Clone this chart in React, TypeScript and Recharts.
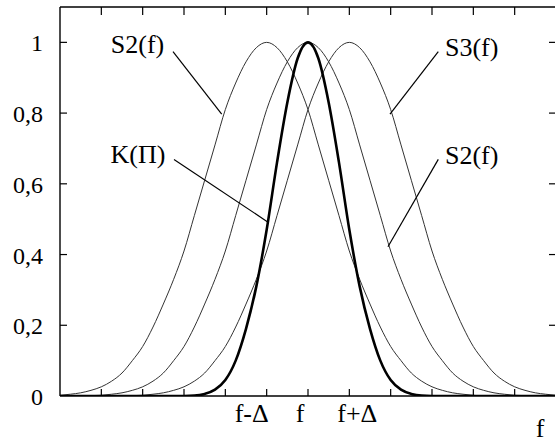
import React from 'react';
import { LineChart, Line, XAxis, YAxis, ReferenceLine, ReferenceDot } from 'recharts';

// frequency grid (axis units, f sits at 6, step = a quarter of Δ)
const freq = [
  0, 0.25, 0.5, 0.75, 1, 1.25, 1.5, 1.75, 2, 2.25, 2.5, 2.75, 3, 3.25, 3.5, 3.75,
  4, 4.25, 4.5, 4.75, 5, 5.25, 5.5, 5.75, 6, 6.25, 6.5, 6.75, 7, 7.25, 7.5, 7.75,
  8, 8.25, 8.5, 8.75, 9, 9.25, 9.5, 9.75, 10, 10.25, 10.5, 10.75, 11, 11.25, 11.5, 11.75, 12,
];

// S2(f) centred on f-Δ
const s2Left = [
  0.002, 0.005, 0.009, 0.016, 0.026, 0.042, 0.065, 0.1, 0.14, 0.195, 0.26, 0.33, 0.41, 0.51, 0.61, 0.71,
  0.81, 0.885, 0.945, 0.985, 1, 0.985, 0.945, 0.885, 0.81, 0.71, 0.61, 0.51, 0.41, 0.33, 0.26, 0.195,
  0.14, 0.1, 0.065, 0.042, 0.026, 0.016, 0.009, 0.005, 0.002, 0, 0, 0, 0, 0, 0, 0, 0,
];

// S2(f) centred on f
const s2Center = [
  0, 0, 0.001, 0.001, 0.002, 0.005, 0.009, 0.016, 0.026, 0.042, 0.065, 0.1, 0.14, 0.195, 0.26, 0.33,
  0.41, 0.51, 0.61, 0.71, 0.81, 0.885, 0.945, 0.985, 1, 0.985, 0.945, 0.885, 0.81, 0.71, 0.61, 0.51,
  0.41, 0.33, 0.26, 0.195, 0.14, 0.1, 0.065, 0.042, 0.026, 0.016, 0.009, 0.005, 0.002, 0.001, 0.001, 0, 0,
];

// S3(f) centred on f+Δ
const s3Right = [
  0, 0, 0, 0, 0, 0, 0.001, 0.001, 0.002, 0.005, 0.009, 0.016, 0.026, 0.042, 0.065, 0.1,
  0.14, 0.195, 0.26, 0.33, 0.41, 0.51, 0.61, 0.71, 0.81, 0.885, 0.945, 0.985, 1, 0.985, 0.945, 0.885,
  0.81, 0.71, 0.61, 0.51, 0.41, 0.33, 0.26, 0.195, 0.14, 0.1, 0.065, 0.042, 0.026, 0.016, 0.009, 0.005, 0.002,
];

// K(Π), the narrow one
const kPi = [
  0, 0, 0, 0, 0, 0, 0, 0, 0, 0, 0, 0, 0, 0.001, 0.006, 0.018,
  0.045, 0.1, 0.19, 0.31, 0.47, 0.66, 0.83, 0.955, 1, 0.955, 0.83, 0.66, 0.47, 0.31, 0.19, 0.1,
  0.045, 0.018, 0.006, 0.001, 0, 0, 0, 0, 0, 0, 0, 0, 0, 0, 0, 0, 0,
];

const xTicks = [1, 2, 3, 4, 5, 6, 7, 8, 9, 10, 11];
const yTicks = [0, 0.2, 0.4, 0.6, 0.8, 1];
const xLabels: Record<number, { text: string; dx: number }> = {
  5: { text: 'f-Δ', dx: -15 },
  6: { text: 'f', dx: -8 },
  7: { text: 'f+Δ', dx: 8 },
};

const FONT = '"Liberation Serif", "DejaVu Serif", serif';
const txt = { fontFamily: FONT, fill: '#000' };
const PLOT_LEFT = 60; // width of the left value axis

const data = freq.map((f, i) => ({
  f,
  s2Left: s2Left[i],
  s2Center: s2Center[i],
  s3Right: s3Right[i],
  kPi: kPi[i],
}));

const BottomTick = (props: any) => {
  const { x, y, payload } = props;
  const lbl = xLabels[payload.value];
  return (
    <g>
      <line x1={x} y1={y} x2={x} y2={y - 7} stroke="#000" strokeWidth={1.2} />
      {lbl && (
        <text x={x + lbl.dx} y={y + 26} textAnchor="middle" fontSize={26} fontFamily={FONT} style={txt}>
          {lbl.text}
        </text>
      )}
    </g>
  );
};

const TopTick = (props: any) => {
  const { x, y } = props;
  return <line x1={x} y1={y} x2={x} y2={y + 8} stroke="#000" strokeWidth={1.2} />;
};

const LeftTick = (props: any) => {
  const { x, y, payload } = props;
  const v = payload.value;
  const text = v === 0 || v === 1 ? String(v) : v.toFixed(1).replace('.', ',');
  return (
    <text x={x - 17} y={y + 9} textAnchor="end" fontSize={24} fontFamily={FONT} style={txt}>
      {text}
    </text>
  );
};

// inward tick marks on both vertical sides of the frame
const SideTicks = (props: any) => {
  const { x, y, payload } = props;
  if (payload.value === 0) return <g />;
  return (
    <g>
      <line x1={x} y1={y} x2={x - 7} y2={y} stroke="#000" strokeWidth={1.2} />
      <line x1={PLOT_LEFT} y1={y} x2={PLOT_LEFT + 7} y2={y} stroke="#000" strokeWidth={1.2} />
    </g>
  );
};

const note = (text: string) => (props: any) => (
  <text x={props.cx} y={props.cy} textAnchor="middle" fontSize={26} fontFamily={FONT} style={txt}>
    {text}
  </text>
);

const AxisTitle = (props: any) => {
  const vb = props.viewBox || {};
  return (
    <text x={vb.x + vb.width - 16} y={vb.y + 41} textAnchor="middle" fontSize={26} fontFamily={FONT} style={txt}>
      f
    </text>
  );
};

const axisLine = { stroke: '#000', strokeWidth: 1.4 };

export default function App() {
  return (
    <div style={{ position: 'absolute', left: 0, top: 0, width: 555, height: 444, overflow: 'hidden', background: '#fff', fontFamily: FONT }}>
      <LineChart width={558} height={444} data={data} margin={{ top: 6, right: 1, bottom: 47, left: 0 }}>
        <XAxis
          dataKey="f"
          type="number"
          domain={[0, 12]}
          allowDataOverflow
          ticks={xTicks}
          interval={0}
          height={1}
          tickSize={0}
          tickMargin={0}
          tickLine={false}
          axisLine={axisLine}
          tick={<BottomTick />}
          label={{ content: <AxisTitle /> }}
        />
        <XAxis
          xAxisId="top"
          dataKey="f"
          orientation="top"
          type="number"
          domain={[0, 12]}
          allowDataOverflow
          ticks={xTicks}
          interval={0}
          height={1}
          tickSize={0}
          tickMargin={0}
          tickLine={false}
          axisLine={axisLine}
          tick={<TopTick />}
        />
        <YAxis
          type="number"
          domain={[0, 1.1]}
          allowDataOverflow
          ticks={yTicks}
          interval={0}
          width={PLOT_LEFT}
          tickSize={0}
          tickMargin={0}
          tickLine={false}
          axisLine={axisLine}
          tick={<LeftTick />}
        />
        <YAxis
          yAxisId="right"
          orientation="right"
          type="number"
          domain={[0, 1.1]}
          allowDataOverflow
          ticks={yTicks}
          interval={0}
          width={1}
          tickSize={0}
          tickMargin={0}
          tickLine={false}
          axisLine={axisLine}
          tick={<SideTicks />}
        />

        <Line dataKey="s2Left" type="monotone" stroke="#333" strokeWidth={1} dot={false} activeDot={false} isAnimationActive={false} />
        <Line dataKey="s2Center" type="monotone" stroke="#333" strokeWidth={1} dot={false} activeDot={false} isAnimationActive={false} />
        <Line dataKey="s3Right" type="monotone" stroke="#333" strokeWidth={1} dot={false} activeDot={false} isAnimationActive={false} />
        <Line dataKey="kPi" type="monotone" stroke="#000" strokeWidth={2.6} dot={false} activeDot={false} isAnimationActive={false} />

        {/* pointer lines from the captions */}
        <ReferenceLine segment={[{ x: 2.734, y: 0.974 }, { x: 3.912, y: 0.797 }]} stroke="#000" strokeWidth={1.2} />
        <ReferenceLine segment={[{ x: 2.758, y: 0.669 }, { x: 5.015, y: 0.493 }]} stroke="#000" strokeWidth={1.2} />
        <ReferenceLine segment={[{ x: 9.152, y: 0.974 }, { x: 7.984, y: 0.797 }]} stroke="#000" strokeWidth={1.2} />
        <ReferenceLine segment={[{ x: 9.152, y: 0.669 }, { x: 7.935, y: 0.422 }]} stroke="#000" strokeWidth={1.2} />

        <ReferenceDot x={1.875} y={0.97} r={0} shape={note('S2(f)')} />
        <ReferenceDot x={1.887} y={0.659} r={0} shape={note('K(Π)')} />
        <ReferenceDot x={9.96} y={0.961} r={0} shape={note('S3(f)')} />
        <ReferenceDot x={9.96} y={0.656} r={0} shape={note('S2(f)')} />
      </LineChart>
    </div>
  );
}
